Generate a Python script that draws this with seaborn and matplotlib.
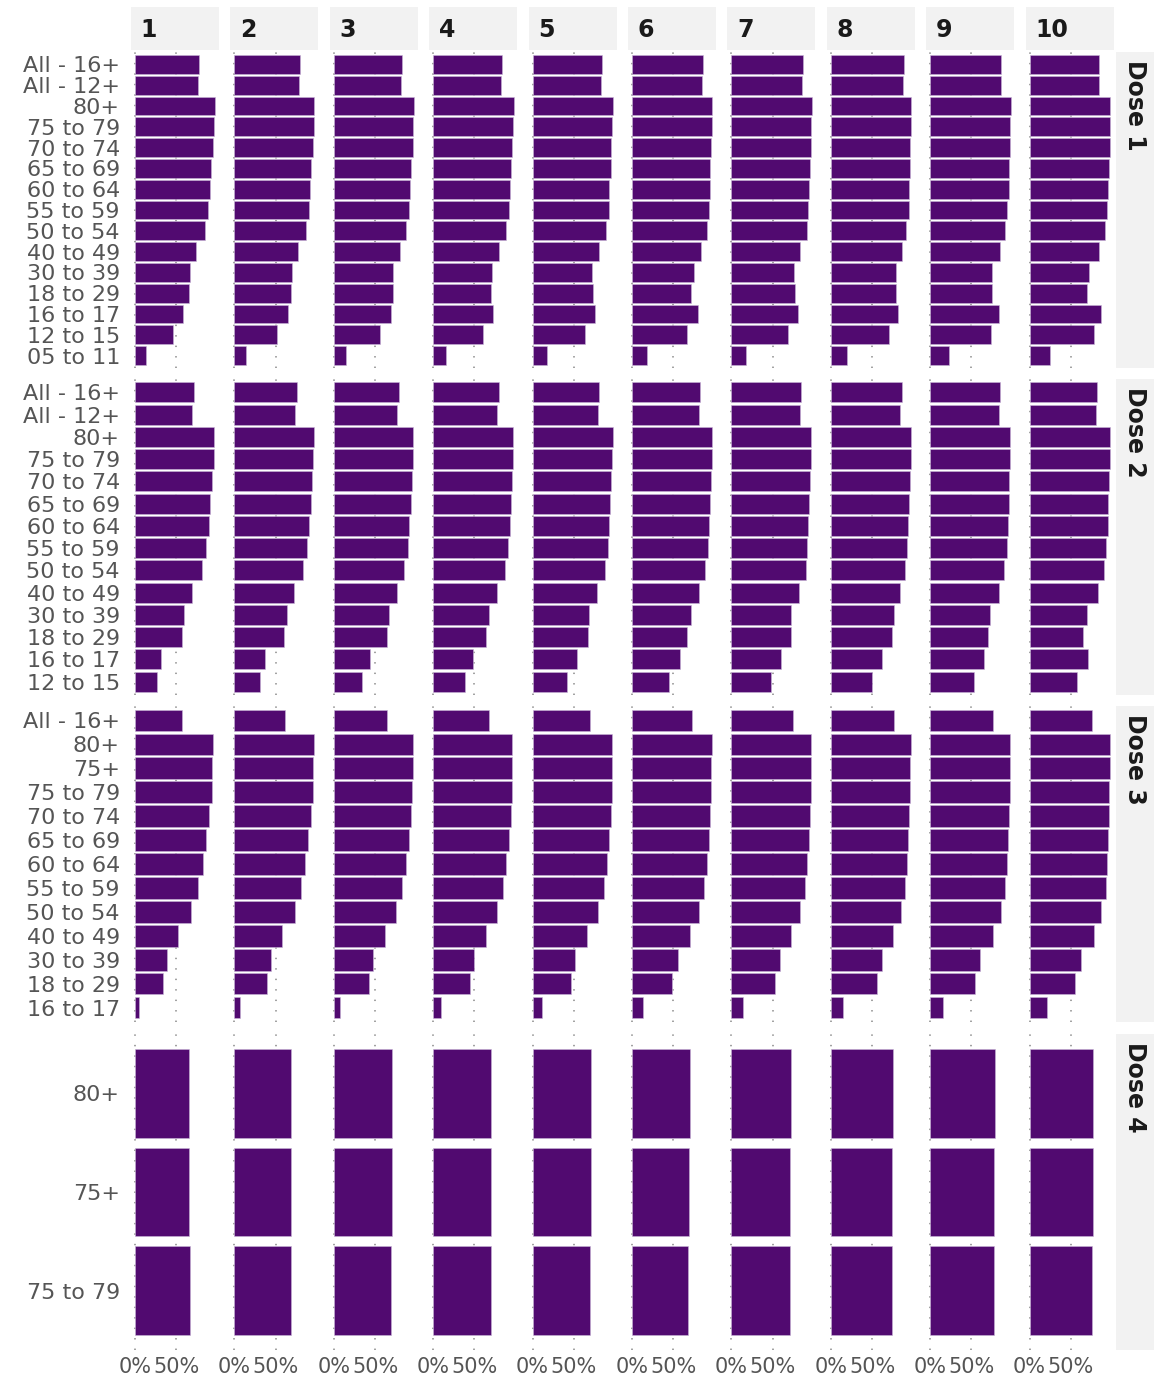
import numpy as np
import pandas as pd
import matplotlib
matplotlib.use("Agg")
import matplotlib.pyplot as plt
import seaborn as sns

# ---------------- data ----------------
deciles = ["1", "2", "3", "4", "5", "6", "7", "8", "9", "10"]
doses = ["Dose 1", "Dose 2", "Dose 3", "Dose 4"]

dose1_groups = ["All - 16+", "All - 12+", "80+", "75 to 79", "70 to 74", "65 to 69",
                "60 to 64", "55 to 59", "50 to 54", "40 to 49", "30 to 39", "18 to 29",
                "16 to 17", "12 to 15", "05 to 11"]
dose2_groups = ["All - 16+", "All - 12+", "80+", "75 to 79", "70 to 74", "65 to 69",
                "60 to 64", "55 to 59", "50 to 54", "40 to 49", "30 to 39", "18 to 29",
                "16 to 17", "12 to 15"]
dose3_groups = ["All - 16+", "80+", "75+", "75 to 79", "70 to 74", "65 to 69",
                "60 to 64", "55 to 59", "50 to 54", "40 to 49", "30 to 39", "18 to 29",
                "16 to 17"]
dose4_groups = ["80+", "75+", "75 to 79"]

# percentages, one list per decile (order follows the group lists)
dose1_values = [
    [77.4, 75.8, 96.4, 95.6, 94.0, 92.3, 91.1, 88.3, 84.3, 73.8, 66.5, 65.3, 58.5, 46.4, 12.9],
    [79.8, 78.2, 96.4, 96.4, 94.8, 93.1, 91.9, 90.3, 86.3, 76.6, 69.4, 68.5, 64.5, 51.2, 13.7],
    [82.7, 81.5, 96.8, 96.4, 95.6, 94.0, 92.7, 91.1, 87.5, 79.8, 71.4, 72.2, 69.0, 55.6, 15.3],
    [83.1, 81.9, 97.6, 96.4, 95.2, 94.4, 93.5, 91.9, 88.7, 80.2, 71.8, 69.4, 72.6, 60.1, 16.1],
    [83.9, 82.7, 97.2, 96.4, 95.2, 94.8, 93.1, 91.9, 89.1, 80.2, 72.2, 72.6, 75.8, 63.3, 16.9],
    [85.5, 84.3, 96.8, 96.8, 95.6, 94.8, 94.0, 92.7, 90.3, 83.1, 74.6, 71.8, 79.4, 66.5, 18.1],
    [86.3, 85.9, 97.2, 96.8, 96.0, 94.8, 94.4, 93.1, 91.1, 83.5, 75.4, 76.6, 80.6, 68.5, 18.1],
    [88.3, 87.1, 97.6, 96.8, 96.4, 95.6, 94.8, 94.4, 91.5, 85.9, 79.4, 78.6, 81.5, 71.0, 20.2],
    [86.3, 85.5, 97.6, 97.2, 96.4, 96.0, 95.2, 93.5, 91.1, 85.1, 74.6, 74.6, 83.9, 73.8, 22.2],
    [84.3, 84.3, 97.6, 97.6, 96.8, 95.6, 95.2, 94.0, 90.7, 83.5, 72.2, 69.0, 85.9, 77.4, 25.0],
]
dose2_values = [
    [71.8, 69.4, 95.2, 95.2, 93.1, 91.1, 89.1, 85.5, 80.6, 68.5, 59.7, 56.9, 31.9, 27.0],
    [75.4, 73.4, 96.0, 95.2, 94.4, 92.7, 90.3, 87.9, 83.5, 72.6, 63.3, 60.5, 37.5, 31.0],
    [78.6, 76.2, 96.4, 96.0, 95.2, 93.1, 91.5, 89.5, 85.5, 76.2, 66.9, 64.9, 43.5, 34.7],
    [79.4, 77.8, 96.4, 96.4, 95.2, 94.0, 92.7, 90.3, 87.1, 77.8, 67.3, 63.7, 48.0, 38.7],
    [81.0, 79.4, 96.8, 96.0, 95.2, 94.0, 92.7, 90.7, 87.5, 78.2, 67.7, 67.3, 53.6, 41.5],
    [82.7, 81.0, 96.4, 96.4, 95.2, 94.0, 93.5, 91.9, 88.3, 81.0, 71.0, 66.1, 57.7, 44.4],
    [83.9, 82.7, 96.8, 96.8, 95.6, 94.4, 93.1, 91.9, 89.9, 81.5, 72.6, 71.8, 60.5, 48.0],
    [85.9, 83.9, 96.8, 96.8, 95.6, 95.2, 94.0, 92.7, 90.3, 84.3, 77.0, 73.8, 62.5, 49.6],
    [84.7, 82.7, 97.2, 97.2, 96.0, 95.6, 94.8, 92.7, 89.9, 83.5, 72.2, 70.2, 64.9, 52.8],
    [81.9, 81.0, 97.2, 96.8, 96.0, 94.8, 94.4, 92.7, 89.9, 82.3, 69.4, 64.1, 70.6, 57.3],
]
dose3_values = [
    [56.6, 93.9, 93.4, 93.0, 90.2, 86.5, 82.4, 75.8, 68.4, 52.0, 39.3, 33.6, 4.9],
    [61.5, 95.9, 95.1, 95.1, 92.6, 88.9, 85.2, 80.3, 73.0, 57.4, 43.9, 38.9, 6.6],
    [65.0, 96.0, 95.5, 95.0, 93.5, 90.5, 87.0, 82.5, 75.0, 62.0, 48.0, 43.0, 8.0],
    [68.0, 96.0, 95.8, 95.5, 94.0, 91.5, 88.5, 85.0, 77.5, 64.0, 50.0, 44.0, 10.0],
    [70.0, 96.5, 96.0, 95.8, 94.5, 92.0, 89.5, 86.0, 79.0, 65.5, 51.0, 47.0, 11.0],
    [72.5, 96.5, 96.0, 96.0, 95.0, 93.0, 90.5, 87.5, 81.0, 70.0, 55.6, 48.0, 13.0],
    [75.0, 96.8, 96.4, 96.0, 95.0, 93.5, 91.5, 89.0, 83.4, 72.5, 59.0, 53.0, 14.5],
    [76.0, 96.8, 96.4, 96.2, 95.2, 94.0, 92.5, 90.0, 84.6, 75.0, 61.7, 55.6, 14.5],
    [76.0, 97.0, 96.6, 96.4, 95.6, 94.4, 93.0, 91.0, 86.0, 76.0, 60.5, 54.4, 15.7],
    [76.0, 97.2, 96.8, 96.6, 96.0, 95.0, 93.5, 92.0, 87.0, 77.4, 61.7, 54.4, 20.6],
]
dose4_values = [
    [64.8, 65.6, 66.0],
    [68.4, 68.9, 68.9],
    [70.5, 70.1, 69.3],
    [70.5, 70.3, 69.5],
    [70.5, 70.3, 70.0],
    [70.0, 69.0, 67.5],
    [72.5, 71.4, 70.5],
    [75.4, 74.2, 73.8],
    [77.9, 77.0, 77.0],
    [77.0, 76.2, 75.8],
]

group_lists = [dose1_groups, dose2_groups, dose3_groups, dose4_groups]
value_lists = [dose1_values, dose2_values, dose3_values, dose4_values]

rows = []
for dose, groups, vals in zip(doses, group_lists, value_lists):
    for dec, series in zip(deciles, vals):
        for g, v in zip(groups, series):
            rows.append({"dose": dose, "decile": dec, "group": g, "value": v / 100.0})
df = pd.DataFrame(rows)

# ---------------- styling ----------------
sns.set_theme(style="white")
plt.rcParams["font.family"] = ["DejaVu Sans"]

W, H = 1154, 1383
fig = plt.figure(figsize=(W / 100, H / 100), dpi=100)

bar_color = "#510a70"
label_grey = "#555555"
strip_bg = "#f2f2f2"

col_left0, col_step, col_w = 131, 99.4, 88
row_tops = [52, 379, 706, 1034]
row_h = 316
xlim = (-0.048, 1.017)


def fig_rect(x, y, w, h):
    return [x / W, 1 - (y + h) / H, w / W, h / H]


for r, (dose, groups) in enumerate(zip(doses, group_lists)):
    n = len(groups)
    for c, dec in enumerate(deciles):
        left = col_left0 + c * col_step
        ax = fig.add_axes(fig_rect(left, row_tops[r], col_w, row_h))
        sub = df[(df["dose"] == dose) & (df["decile"] == dec)]
        sns.barplot(data=sub, x="value", y="group", order=groups, orient="h",
                    color=bar_color, saturation=1, width=0.9, ax=ax,
                    edgecolor="#c9b6d6", linewidth=0.4, errorbar=None)
        ax.set_xlim(*xlim)
        ax.set_ylim(n - 0.4, -0.6)
        ax.set_xticks([0, 0.5])
        ax.set_axisbelow(True)
        ax.grid(False)
        for xv in [0, 0.5]:
            ax.axvline(xv, color="#9a9a9a", linewidth=1.3, linestyle=(0, (0.8, 5)),
                       zorder=0)
        for s in ax.spines.values():
            s.set_visible(False)
        ax.set_xlabel("")
        ax.set_ylabel("")
        ax.tick_params(axis="both", length=0)
        if c == 0:
            ax.tick_params(axis="y", pad=8, labelsize=16, labelcolor=label_grey)
        else:
            ax.set_yticklabels([])
        if r == len(doses) - 1:
            ax.set_xticklabels(["0%", "50%"])
            ax.tick_params(axis="x", pad=5, labelsize=15, labelcolor=label_grey)
        else:
            ax.set_xticklabels([])

        # top strips
        if r == 0:
            sax = fig.add_axes(fig_rect(left, 7, col_w, 43))
            sax.set_facecolor(strip_bg)
            sax.set_xticks([]); sax.set_yticks([])
            for s in sax.spines.values():
                s.set_visible(False)
            sax.text(0.11, 0.47, dec, transform=sax.transAxes, ha="left",
                     va="center", fontsize=17, fontweight="bold", color="#1a1a1a")

    # right strips
    rax = fig.add_axes(fig_rect(1116, row_tops[r], 38, row_h))
    rax.set_facecolor(strip_bg)
    rax.set_xticks([]); rax.set_yticks([])
    for s in rax.spines.values():
        s.set_visible(False)
    rax.text(0.5, 0.975, dose, transform=rax.transAxes, ha="center", va="top",
             rotation=270, fontsize=17, fontweight="bold", color="#1a1a1a")

fig.savefig("out.png", dpi=100, facecolor="white")
